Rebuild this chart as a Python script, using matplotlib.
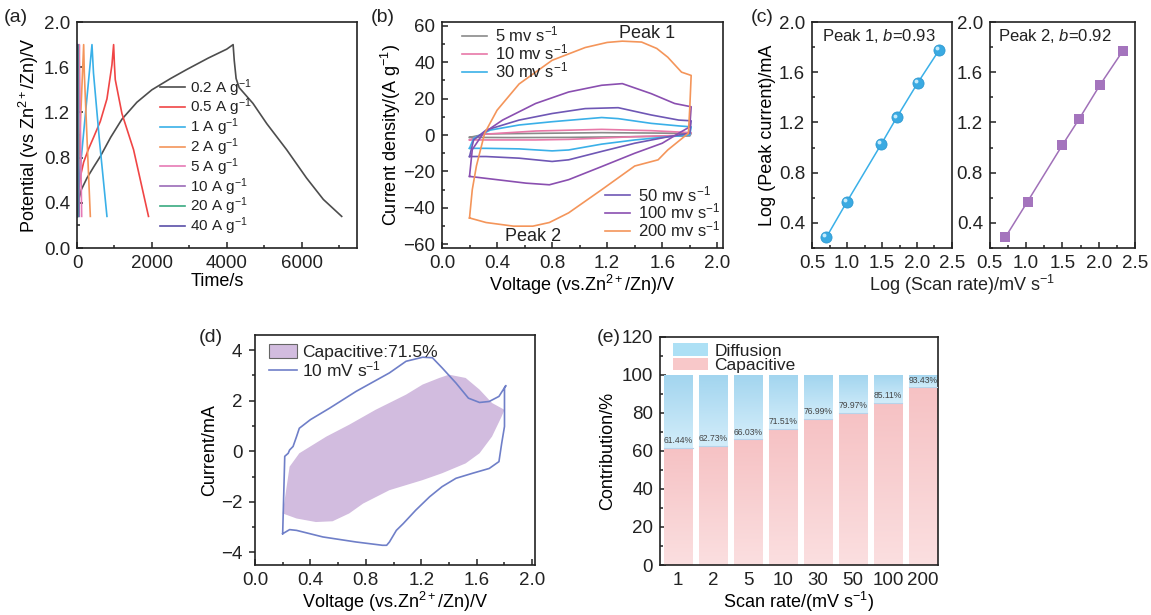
import numpy as np
import matplotlib
matplotlib.use("Agg")
import matplotlib.pyplot as plt
from matplotlib.ticker import MultipleLocator
from matplotlib.transforms import offset_copy
from matplotlib.colors import LinearSegmentedColormap
from matplotlib.patches import Patch
from matplotlib.lines import Line2D

plt.rcParams['font.family'] = ['Liberation Sans', 'DejaVu Sans']
plt.rcParams['mathtext.fontset'] = 'custom'
plt.rcParams['mathtext.rm'] = 'Liberation Sans'
plt.rcParams['mathtext.it'] = 'Liberation Sans:italic'
plt.rcParams['axes.linewidth'] = 1.2
plt.rcParams['axes.edgecolor'] = '#222222'
plt.rcParams['text.color'] = '#222222'
plt.rcParams['xtick.color'] = '#222222'
plt.rcParams['ytick.color'] = '#222222'

# ---------------- (a) GCD data ----------------
gcd_labels = ['0.2 A g$^{-1}$', '0.5 A g$^{-1}$', '1 A g$^{-1}$', '2 A g$^{-1}$',
              '5 A g$^{-1}$', '10 A g$^{-1}$', '20 A g$^{-1}$', '40 A g$^{-1}$']
gcd_colors = ['#4d4d4d', '#f04545', '#3ab0e8', '#f4955a', '#e67ab5', '#9b6bb8', '#3aaa80', '#5a4fa8']
t_02 = [0, 40, 120, 267, 450, 622, 900, 1200, 1600, 2000, 2500, 2933, 3500, 4000, 4170,
        4200, 4250, 4330, 4700, 5070, 5600, 6130, 6580, 7070]
v_02 = [0.28, 0.42, 0.52, 0.62, 0.72, 0.81, 0.98, 1.14, 1.29, 1.40, 1.50, 1.58, 1.68, 1.76, 1.80,
        1.66, 1.50, 1.42, 1.28, 1.10, 0.87, 0.62, 0.43, 0.28]
t_05 = [0, 30, 89, 178, 300, 444, 622, 800, 933, 978, 1000, 1022, 1200, 1511, 1910]
v_05 = [0.28, 0.48, 0.63, 0.76, 0.87, 0.98, 1.12, 1.32, 1.62, 1.80, 1.62, 1.49, 1.19, 0.87, 0.28]
t_1 = [0, 30, 200, 400, 440, 600, 800]
v_1 = [0.28, 0.50, 1.10, 1.80, 1.55, 0.95, 0.28]
t_2 = [0, 15, 90, 178, 195, 270, 356]
v_2 = [0.28, 0.50, 1.10, 1.80, 1.55, 0.95, 0.28]
t_5 = [0, 31, 62, 70, 125]
v_5 = [0.28, 1.05, 1.80, 1.55, 0.28]
t_10 = [0, 15, 30, 34, 60]
v_10 = [0.28, 1.05, 1.80, 1.55, 0.28]
t_20 = [0, 14, 28]
v_20 = [0.28, 1.80, 0.28]
t_40 = [0, 7, 14]
v_40 = [0.28, 1.80, 0.28]
gcd_t = [t_02, t_05, t_1, t_2, t_5, t_10, t_20, t_40]
gcd_v = [v_02, v_05, v_1, v_2, v_5, v_10, v_20, v_40]

# ---------------- (b) CV data (closed loops) ----------------
cv_labels = ['5 mv s$^{-1}$', '10 mv s$^{-1}$', '30 mv s$^{-1}$',
             '50 mv s$^{-1}$', '100 mv s$^{-1}$', '200 mv s$^{-1}$']
cv_colors = ['#8a8a8a', '#e878a8', '#3ab0e8', '#6f57b5', '#8a4fb0', '#f4955a']
cv5_v = [0.20, 0.32, 0.80, 1.16, 1.50, 1.81, 1.80, 1.40, 0.92, 0.50, 0.20, 0.20]
cv5_i = [-1.3, 0.6, 1.0, 1.3, 1.1, 0.9, -0.5, -0.9, -1.3, -1.4, -1.3, -1.3]
cv10_v = [0.20, 0.30, 0.68, 1.16, 1.52, 1.81, 1.80, 1.40, 0.92, 0.68, 0.40, 0.20]
cv10_i = [-2.7, 0.4, 2.2, 3.1, 2.4, 1.3, 0.0, -0.9, -2.4, -2.7, -2.7, -2.7]
cv30_v = [0.20, 0.23, 0.35, 0.56, 0.80, 1.16, 1.28, 1.52, 1.72, 1.81, 1.80, 1.64, 1.40, 1.16,
          0.92, 0.80, 0.56, 0.32, 0.20]
cv30_i = [-7.3, -1.8, 2.7, 5.5, 7.3, 9.6, 9.0, 6.4, 5.0, 4.5, 0.0, -1.0, -2.7, -5.0,
          -8.2, -8.7, -7.6, -7.3, -7.3]
cv50_v = [0.20, 0.23, 0.32, 0.56, 0.80, 1.04, 1.28, 1.52, 1.72, 1.81, 1.80, 1.64, 1.40, 1.16,
          0.92, 0.80, 0.56, 0.32, 0.20]
cv50_i = [-11.8, -2.7, 2.7, 8.2, 11.8, 14.5, 15.0, 11.0, 8.2, 7.8, 1.0, -1.0, -4.5, -9.0,
          -13.6, -14.5, -12.7, -11.8, -11.8]
cv100_v = [0.20, 0.22, 0.30, 0.44, 0.68, 0.92, 1.16, 1.31, 1.52, 1.69, 1.81, 1.80, 1.72, 1.60,
           1.40, 1.16, 0.92, 0.78, 0.61, 0.40, 0.20]
cv100_i = [-22.7, -8.0, 1.0, 8.2, 17.3, 23.6, 27.3, 28.2, 22.7, 17.3, 15.5, 4.5, 1.0, -4.5,
           -10.0, -17.3, -24.5, -27.3, -26.4, -24.5, -22.7]
cv200_v = [0.20, 0.22, 0.25, 0.31, 0.40, 0.56, 0.80, 1.04, 1.20, 1.31, 1.45, 1.56, 1.64, 1.74,
           1.81, 1.80, 1.79, 1.73, 1.64, 1.57, 1.40, 1.16, 0.92, 0.78, 0.66, 0.52, 0.32, 0.20]
cv200_i = [-45.5, -30.0, -17.0, 1.0, 13.6, 28.0, 41.0, 48.0, 50.8, 51.5, 51.0, 47.5, 42.7, 34.5,
           32.7, 15.0, 1.0, -2.7, -8.2, -13.6, -17.0, -30.0, -42.7, -48.0, -50.0, -50.0,
           -48.0, -45.5]
cv_v = [cv5_v, cv10_v, cv30_v, cv50_v, cv100_v, cv200_v]
cv_i = [cv5_i, cv10_i, cv30_i, cv50_i, cv100_i, cv200_i]

# ---------------- (c) b-value data ----------------
log_rate_p1 = [0.705, 1.00, 1.49, 1.71, 2.01, 2.32]
log_curr_p1 = [0.286, 0.570, 1.028, 1.240, 1.515, 1.780]
log_rate_p2 = [0.714, 1.02, 1.50, 1.73, 2.02, 2.33]
log_curr_p2 = [0.286, 0.570, 1.020, 1.227, 1.500, 1.767]

# ---------------- (d) CV at 10 mV/s with capacitive area ----------------
d_cv_v = [0.20, 0.215, 0.24, 0.25, 0.275, 0.30, 0.32, 0.40, 0.54, 0.73, 0.97, 1.09, 1.21, 1.28,
          1.35, 1.45, 1.54, 1.62, 1.69, 1.76, 1.81, 1.80, 1.80, 1.78, 1.76, 1.69, 1.57, 1.45,
          1.35, 1.26, 1.16, 1.07, 1.02, 0.97, 0.95, 0.92, 0.73, 0.49, 0.30, 0.25, 0.21, 0.20]
d_cv_i = [-3.26, -0.20, -0.08, 0.05, 0.19, 0.58, 0.91, 1.25, 1.71, 2.37, 3.10, 3.56, 3.72, 3.70,
          3.30, 2.70, 2.10, 1.93, 1.97, 2.17, 2.60, 2.50, 0.98, 0.32, -0.41, -0.68, -0.87, -1.07,
          -1.40, -1.80, -2.33, -2.86, -3.13, -3.59, -3.72, -3.72, -3.59, -3.39, -3.13, -3.10,
          -3.23, -3.26]
cap_v = [0.20, 0.25, 0.32, 0.515, 0.68, 0.87, 1.09, 1.21, 1.33, 1.40, 1.52, 1.62, 1.71, 1.80,
         1.78, 1.71, 1.62, 1.52, 1.35, 1.21, 0.97, 0.78, 0.68, 0.56, 0.44, 0.30]
cap_i = [-2.46, -0.61, -0.08, 0.58, 1.05, 1.64, 2.24, 2.64, 2.90, 3.03, 2.90, 2.44, 1.91, 1.64,
         1.38, 0.58, -0.08, -0.48, -0.87, -1.14, -1.54, -2.07, -2.46, -2.77, -2.80, -2.66]

# ---------------- (e) contribution data ----------------
scan_rates = ['1', '2', '5', '10', '30', '50', '100', '200']
capacitive = [61.44, 62.73, 66.03, 71.51, 76.99, 79.97, 85.11, 93.43]
diffusion = [100 - c for c in capacitive]

TICK = 13.5
LAB = 13


def style(ax, yin=True):
    ax.tick_params(which='both', direction='in', top=False, right=False, labelsize=TICK,
                   width=1.1, pad=5)
    ax.tick_params(which='major', length=4)
    ax.tick_params(which='minor', length=2.5)
    if not yin:
        ax.tick_params(axis='y', which='both', direction='out')


fig = plt.figure(figsize=(11.51, 6.15), dpi=100)

# (a)
axA = fig.add_axes([0.0669, 0.5967, 0.2433, 0.3675])
for t, v, c, l in zip(gcd_t, gcd_v, gcd_colors, gcd_labels):
    axA.plot(t, v, color=c, lw=1.2, label=l)
axA.set_xlim(0, 7480)
axA.set_ylim(0, 2.0)
axA.xaxis.set_major_locator(MultipleLocator(2000))
axA.xaxis.set_minor_locator(MultipleLocator(1000))
axA.yaxis.set_major_locator(MultipleLocator(0.4))
axA.yaxis.set_minor_locator(MultipleLocator(0.2))
axA.set_xlabel('Time/s', fontsize=LAB, labelpad=1)
axA.set_ylabel('Potential (vs Zn$^{2+}$/Zn)/V', fontsize=LAB, labelpad=2)
style(axA)
axA.legend(loc='upper left', bbox_to_anchor=(0.27, 0.79), frameon=False, fontsize=11,
           handlelength=1.6, handletextpad=0.35, labelspacing=-0.12, borderpad=0)

# (b)
axB = fig.add_axes([0.384, 0.5967, 0.244, 0.3675])
lines = []
for v, i, c, l in zip(cv_v, cv_i, cv_colors, cv_labels):
    ln, = axB.plot(v, i, color=c, lw=1.2, label=l)
    lines.append(ln)
axB.set_xlim(0, 2.04)
axB.set_ylim(-62, 62)
axB.xaxis.set_major_locator(MultipleLocator(0.4))
axB.xaxis.set_minor_locator(MultipleLocator(0.2))
axB.yaxis.set_major_locator(MultipleLocator(20))
axB.yaxis.set_minor_locator(MultipleLocator(10))
axB.set_xlabel('Voltage (vs.Zn$^{2+}$/Zn)/V', fontsize=LAB, labelpad=1)
axB.set_ylabel('Current density/(A g$^{-1}$)', fontsize=LAB, labelpad=0)
style(axB)
leg1 = axB.legend(handles=lines[:3], loc='upper left', bbox_to_anchor=(0.04, 1.025),
                  frameon=False, fontsize=12, handlelength=1.5, handletextpad=0.5,
                  labelspacing=-0.12, borderpad=0)
axB.add_artist(leg1)
axB.legend(handles=lines[3:], loc='upper left', bbox_to_anchor=(0.55, 0.32), frameon=False,
           fontsize=12, handlelength=1.5, handletextpad=0.5, labelspacing=-0.12, borderpad=0)
axB.text(1.49, 55.5, 'Peak 1', fontsize=13, ha='center', va='center')
axB.text(0.66, -55.5, 'Peak 2', fontsize=13, ha='center', va='center')

# (c)
axC1 = fig.add_axes([0.7055, 0.5967, 0.1216, 0.3675])
axC1.plot(log_rate_p1, log_curr_p1, '-', color='#3ab0e8', lw=1.1)
axC1.plot(log_rate_p1, log_curr_p1, 'o', ms=8, color='#3aaae2', mec='#2f9ad2', mew=0.6)
axC1.plot(log_rate_p1, log_curr_p1, 'o', ms=2.8, color='#c6ebfb', mew=0,
          transform=offset_copy(axC1.transData, fig=fig, x=-1.4, y=1.4, units='points'))
axC2 = fig.add_axes([0.860, 0.5967, 0.126, 0.3675])
axC2.plot(log_rate_p2, log_curr_p2, '-', color='#a070b8', lw=1.1)
axC2.plot(log_rate_p2, log_curr_p2, 's', ms=7.5, color='#a474bd', mew=0)
for ax in (axC1, axC2):
    ax.set_xlim(0.5, 2.5)
    ax.set_ylim(0.2, 2.0)
    ax.xaxis.set_major_locator(MultipleLocator(0.5))
    ax.xaxis.set_minor_locator(MultipleLocator(0.25))
    ax.yaxis.set_minor_locator(MultipleLocator(0.2))
    ax.set_yticks([0.4, 0.8, 1.2, 1.6, 2.0])
    style(ax)
axC1.set_ylabel('Log (Peak current)/mA', fontsize=LAB, labelpad=2)
axC1.text(0.07, 0.94, 'Peak 1, $b$=0.93', transform=axC1.transAxes, fontsize=12,
          ha='left', va='center')
axC2.text(0.055, 0.94, 'Peak 2, $b$=0.92', transform=axC2.transAxes, fontsize=12,
          ha='left', va='center')
fig.text(0.836, 1 - 285 / 615, 'Log (Scan rate)/mV s$^{-1}$', fontsize=LAB, ha='center',
         va='center')

# (d)
axD = fig.add_axes([0.2215, 0.0813, 0.2433, 0.374])
axD.fill(cap_v, cap_i, color='#d2bcdf', lw=0)
axD.plot(d_cv_v, d_cv_i, color='#6f7fc8', lw=1.2)
axD.set_xlim(0, 2.02)
axD.set_ylim(-4.5, 4.6)
axD.xaxis.set_major_locator(MultipleLocator(0.4))
axD.xaxis.set_minor_locator(MultipleLocator(0.2))
axD.yaxis.set_major_locator(MultipleLocator(2))
axD.yaxis.set_minor_locator(MultipleLocator(1))
axD.set_xlabel('Voltage (vs.Zn$^{2+}$/Zn)/V', fontsize=LAB, labelpad=1)
axD.set_ylabel('Current/mA', fontsize=LAB, labelpad=2)
style(axD, yin=False)
axD.legend(handles=[Patch(facecolor='#d2bcdf', edgecolor='#666666', lw=0.8),
                    Line2D([], [], color='#6f7fc8', lw=1.2)],
           labels=['Capacitive:71.5%', '10 mV s$^{-1}$'], loc='upper left',
           bbox_to_anchor=(0.02, 1.0), frameon=False, fontsize=12.5, handlelength=1.6,
           handleheight=0.9, handletextpad=0.3, labelspacing=0.0, borderpad=0)

# (e)
axE = fig.add_axes([0.5734, 0.0813, 0.2415, 0.371])
x = np.arange(len(scan_rates))
pink = LinearSegmentedColormap.from_list('pk', ['#fbdfe0', '#f6c2c4'])
blue = LinearSegmentedColormap.from_list('bl', ['#d3edfa', '#a2d5ef'])
grad = np.linspace(0, 1, 128).reshape(-1, 1)
cap_bars = axE.bar(x, capacitive, width=0.82, color='#f8cccd', lw=0)
dif_bars = axE.bar(x, diffusion, bottom=capacitive, width=0.82, color='#b8e0f4', lw=0)
for bars, cmap in ((cap_bars, pink), (dif_bars, blue)):
    for b in bars:
        x0, y0 = b.get_x(), b.get_y()
        im = axE.imshow(grad, cmap=cmap, origin='lower', aspect='auto',
                        extent=(x0, x0 + b.get_width(), y0, y0 + b.get_height()), zorder=2)
        im.set_clip_path(b)
for xi, c in zip(x, capacitive):
    axE.plot([xi - 0.41, xi + 0.41], [c, c], color='#b7d3ea', lw=0.8, zorder=3)
    axE.text(xi, c + 1.5, f'{c:.2f}%', fontsize=6.2, ha='center', va='bottom',
             color='#444444', zorder=4)
axE.set_xlim(-0.52, 7.43)
axE.set_ylim(0, 120)
axE.set_xticks(x)
axE.set_xticklabels(scan_rates)
axE.yaxis.set_major_locator(MultipleLocator(20))
axE.yaxis.set_minor_locator(MultipleLocator(10))
axE.set_xlabel('Scan rate/(mV s$^{-1}$)', fontsize=LAB, labelpad=1)
axE.set_ylabel('Contribution/%', fontsize=LAB, labelpad=4)
style(axE)
axE.legend(handles=[Patch(facecolor='#ade0f5', lw=0), Patch(facecolor='#f8c8c9', lw=0)],
           labels=['Diffusion', 'Capacitive'], loc='upper left', bbox_to_anchor=(0.015, 1.01),
           frameon=False, fontsize=12.5, handlelength=2.0, handleheight=0.75,
           handletextpad=0.4, labelspacing=-0.05, borderpad=0)

# panel letters
for px, py, s in [(4, 18, '(a)'), (371, 18, '(b)'), (751, 18, '(c)'),
                  (199, 338, '(d)'), (597, 338, '(e)')]:
    fig.text(px / 1151, 1 - py / 615, s, fontsize=14, ha='left', va='center')

fig.savefig('out.png', dpi=100)
